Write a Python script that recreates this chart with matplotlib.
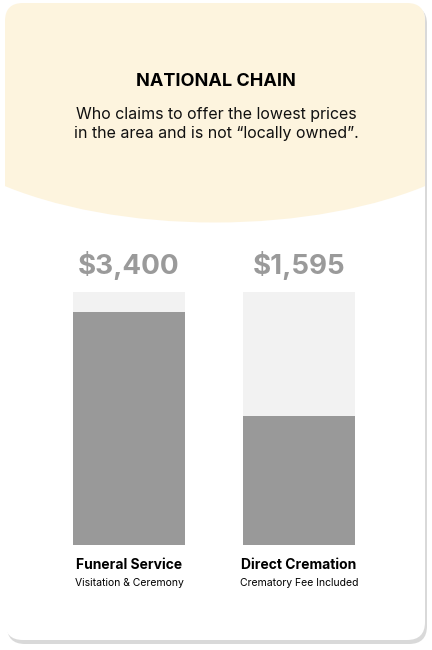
import matplotlib
matplotlib.use("Agg")
import matplotlib.pyplot as plt
from matplotlib.patches import FancyBboxPatch, Ellipse

plt.rcParams['font.family'] = ['Inter', 'DejaVu Sans']

categories = ["Funeral Service", "Direct Cremation"]
subtitles = ["Visitation & Ceremony", "Crematory Fee Included"]
price_labels = ["$3,400", "$1,595"]
fill_levels = [92, 51]   # percent of bar track filled
track_max = 100

W, H = 432, 650
fig = plt.figure(figsize=(W/100, H/100), dpi=100)
bg = fig.add_axes([0, 0, 1, 1])
bg.set_xlim(0, W); bg.set_ylim(H, 0); bg.axis('off')

# shadow + card
bg.add_patch(FancyBboxPatch((7, 6), 420, 638, boxstyle="round,pad=0,rounding_size=18",
                            fc="#d9d9d9", ec="none", zorder=0))
card = FancyBboxPatch((5, 3), 420, 637, boxstyle="round,pad=0,rounding_size=18",
                      fc="white", ec="none", zorder=1)
bg.add_patch(card)
ell = Ellipse((215, 85), 620, 275, fc="#FDF4DE", ec="none", zorder=2)
bg.add_patch(ell)
ell.set_clip_path(card)

bg.text(216, 82, "NATIONAL CHAIN", ha='center', va='center', fontsize=13,
        fontweight='bold', color='black', zorder=3)
bg.text(216, 124, "Who claims to offer the lowest prices\nin the area and is not \u201clocally owned\u201d.",
        ha='center', va='center', fontsize=11.5, color='#111111', linespacing=1.3, zorder=3)

centers_px = [129, 299]
for cx, pl, cat, sub in zip(centers_px, price_labels, categories, subtitles):
    bg.text(cx, 266, pl, ha='center', va='center', fontsize=20, fontweight='bold', color='#9a9a9a')
    bg.text(cx, 565, cat, ha='center', va='center', fontsize=10, fontweight='bold', color='black')
    bg.text(cx, 583, sub, ha='center', va='center', fontsize=7.5, color='black')

# bar axes
x0, x1, y0, y1 = 73, 355, 292, 545
ax = fig.add_axes([x0/W, 1 - y1/H, (x1-x0)/W, (y1-y0)/H])
ax.set_facecolor('none')
pos = [0, 1]
w = 112/170
ax.bar(pos, [track_max]*2, width=w, color='#f2f2f2')
ax.bar(pos, fill_levels, width=w, color='#999999')
ax.set_xlim(-w/2, 1 + w/2)
ax.set_ylim(0, track_max)
ax.axis('off')

fig.savefig("out.png", dpi=100)
